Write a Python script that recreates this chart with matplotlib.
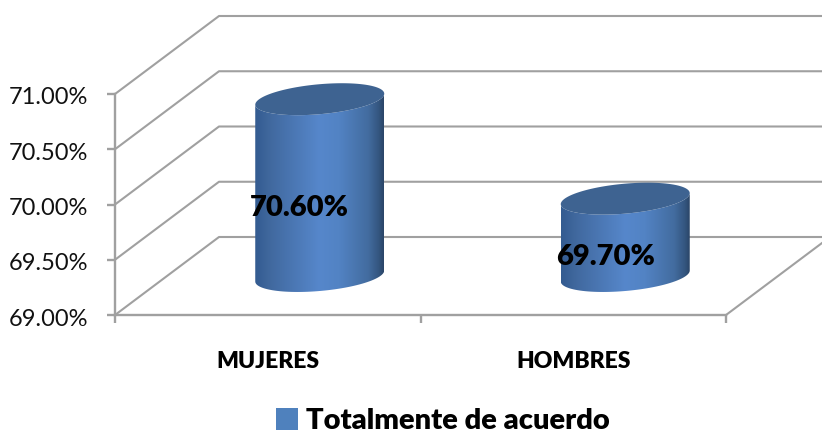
import matplotlib
matplotlib.use("Agg")
import matplotlib.pyplot as plt
import numpy as np
from matplotlib.colors import LinearSegmentedColormap
from matplotlib.patches import PathPatch, Patch
from matplotlib.path import Path
from matplotlib.transforms import ScaledTranslation

plt.rcParams["font.family"] = ["Lato", "DejaVu Sans"]

categories = ["MUJERES", "HOMBRES"]
values = [70.6, 69.7]
y_ticks = [69.0, 69.5, 70.0, 70.5, 71.0]
series_name = "Totalmente de acuerdo"

W, H = 822, 434
GRID = "#a0a0a0"
XPX = 2 / 611   # data per pixel
YPX = 2 / 221
DX = 104 * XPX  # depth of the 3d box
DY = 78 * YPX

fig = plt.figure(figsize=(W / 100, H / 100), dpi=100)
ax = fig.add_axes([115 / W, (H - 315) / H, 611 / W, 221 / H])

cmap = LinearSegmentedColormap.from_list("cyl", [
    (0.0, "#335b90"), (0.12, "#41699f"), (0.5, "#5687cb"), (0.65, "#5283c4"),
    (0.88, "#436c9f"), (0.96, "#345680"), (1.0, "#2b4668")])


def ring(cx, cy, t):
    x = cx + 64.5 * XPX * np.cos(t)
    y = cy + 5.5 * YPX * np.cos(t) + 15 * YPX * np.sin(t)
    return x, y


def cylinder(cx, base, top):
    t = np.linspace(np.pi, 2 * np.pi, 60)
    bx, by = ring(cx, base, t)
    tx, ty = ring(cx, top, t[::-1])
    body = np.column_stack([np.r_[bx, tx], np.r_[by, ty]])
    patch = PathPatch(Path(np.vstack([body, body[:1]])), fc="none", ec="none")
    ax.add_patch(patch)
    xa, xb = cx - 64.5 * XPX, cx + 64.5 * XPX
    im = ax.imshow(np.linspace(0, 1, 256)[None, :], cmap=cmap, aspect="auto", zorder=3,
                   extent=[xa, xb, by.min() - 0.1, ty.max() + 0.2], clip_on=True)
    im.set_clip_path(patch)
    t2 = np.linspace(0, 2 * np.pi, 120)
    ex, ey = ring(cx, top, t2)
    ax.fill(ex, ey, color="#3e6391", lw=0, zorder=4, clip_on=False)


# back wall and floor of the box
for v in y_ticks:
    ax.plot([0, DX, 2 + DX], [v, v + DY, v + DY], color=GRID, lw=1.5, clip_on=False, zorder=1)
ax.plot([2, 2 + DX], [y_ticks[0], y_ticks[0] + DY], color=GRID, lw=1.5, clip_on=False, zorder=1)

for i, v in enumerate(values):
    cx = i + 0.5 + DX / 2
    cylinder(cx, y_ticks[0] + DY / 2, v + DY / 2)
    ax.text(i + 0.5 + 32 * XPX, (y_ticks[0] + v) / 2 + 19 * YPX, f"{v:.2f}%", ha="center", va="center",
            fontsize=21, fontweight=800, color="black", zorder=5)

ax.set_xlim(0, 2)
ax.set_ylim(69, 71)
ax.patch.set_alpha(0)
for s in ["top", "right"]:
    ax.spines[s].set_visible(False)
for s in ["left", "bottom"]:
    ax.spines[s].set_color(GRID)
    ax.spines[s].set_linewidth(1.7)

ax.set_yticks(y_ticks)
ax.set_yticklabels([f"{v:.2f}%" for v in y_ticks], fontsize=17, color="#111111")
ax.tick_params(axis="y", length=6, width=1.7, color=GRID, pad=13)
nudge = ScaledTranslation(0, -2 / 100, fig.dpi_scale_trans)
for lab in ax.get_yticklabels():
    lab.set_transform(lab.get_transform() + nudge)
ax.set_xticks([0, 1, 2])
ax.set_xticklabels([])
ax.tick_params(axis="x", length=6, width=1.7, color=GRID)
ax.set_xticks([0.5, 1.5], minor=True)
ax.set_xticklabels(categories, minor=True, fontsize=16.5, fontweight=800, color="black")
ax.tick_params(axis="x", which="minor", length=0, pad=26)

handle = Patch(facecolor="#4f81bd", label=series_name)
leg = ax.legend(handles=[handle], loc="center", bbox_to_anchor=(443 / W, (H - 421) / H),
                bbox_transform=fig.transFigure, frameon=False, handlelength=0.75, handleheight=0.75,
                handletextpad=0.3, borderpad=0, prop={"size": 21, "weight": 800})

fig.savefig("out.png", dpi=100)
